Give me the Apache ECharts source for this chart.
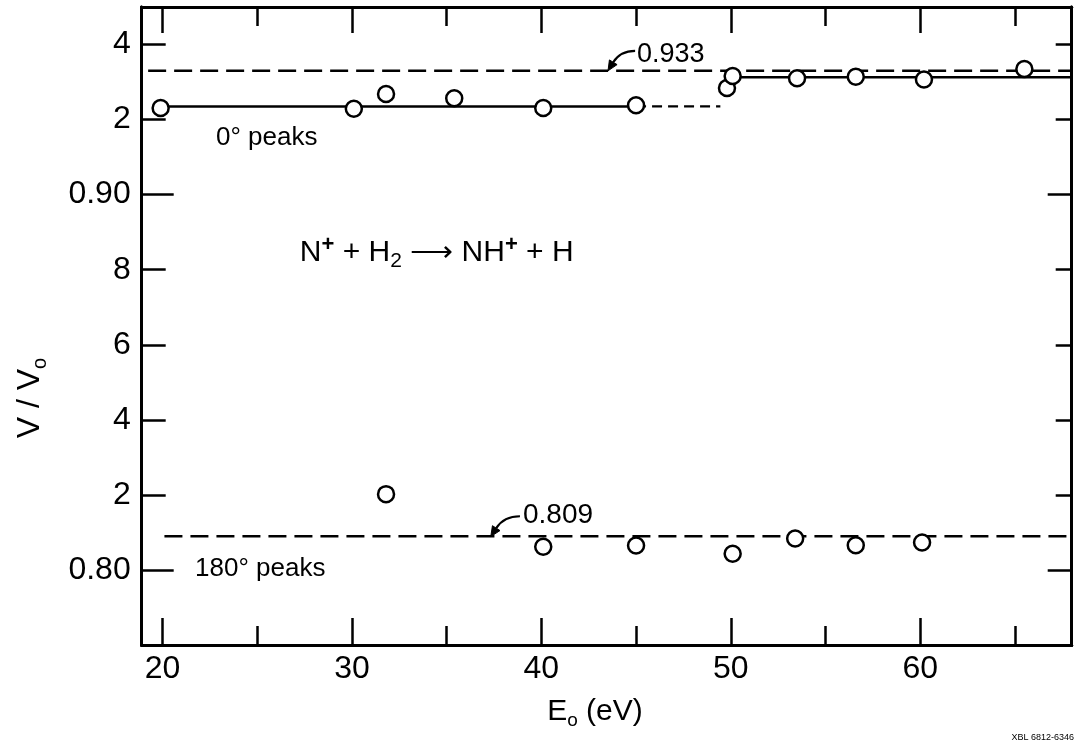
<!DOCTYPE html>
<html><head><meta charset="utf-8">
<script src="https://cdn.jsdelivr.net/npm/echarts@6/dist/echarts.min.js"></script>
<style>html,body{margin:0;padding:0;background:#fff}#c{width:1077px;height:743px}</style>
</head><body><div id="c"></div>
<script>
// ---- data ----
const peaks0E = [19.9, 30.1, 31.8, 35.4, 40.1, 45.0, 49.8, 50.1, 53.5, 56.6, 60.2, 65.5];
const peaks0V = [0.9231, 0.9229, 0.9268, 0.9257, 0.9231, 0.9238, 0.9284, 0.9316, 0.9310, 0.9314, 0.9307, 0.9335];
const peaks180E = [31.8, 40.1, 45.0, 50.1, 53.4, 56.6, 60.1];
const peaks180V = [0.8202, 0.8062, 0.8065, 0.8043, 0.8084, 0.8066, 0.8073];
const fitLowE = [20, 45];
const fitLowExtE = [45, 49.45];
const fitLowV = 0.9235;
const fitHighE = [50.06, 68];
const fitHighV = 0.9313;
const ref0E = [19.24, 68];
const ref0V = 0.933;
const ref180E = [20.1, 68];
const ref180V = 0.809;
const arrow933 = [[44.95, 0.9383], [43.52, 0.933]];
const arrow809 = [[38.87, 0.8143], [37.33, 0.8089]];
const xLabelValues = [20, 30, 40, 50, 60];
const xMinorValues = [25, 35, 45, 55, 65];
const yTickValues = [0.80, 0.82, 0.84, 0.86, 0.88, 0.90, 0.92, 0.94];
const yTickLabels = ['0.80', '2', '4', '6', '8', '0.90', '2', '4'];
const yMajorValues = [0.80, 0.90];
const yMinorValues = [0.82, 0.84, 0.86, 0.88, 0.92, 0.94];
const X_MIN = 18.9, X_MAX = 68.0, Y_MIN = 0.78, Y_MAX = 0.95;

const FONT = '"Liberation Sans", Arial, sans-serif';
const chart = echarts.init(document.getElementById('c'), null, {renderer: 'canvas'});

function zip(xs, ys) { return xs.map((x, i) => [x, ys[i]]); }
function hline(xs, v) { return xs.map(x => [x, v]); }

function xAxisDef(pos, len, vals, withLabel) {
  return {
    type: 'value', min: X_MIN, max: X_MAX, position: pos,
    axisLine: {show: true, onZero: false, lineStyle: {color: '#000', width: 3}},
    axisTick: {show: true, inside: true, length: len, customValues: vals, lineStyle: {color: '#000', width: 2.5}},
    axisLabel: withLabel ? {show: true, customValues: vals, fontSize: 32, color: '#000', fontFamily: FONT, margin: 8} : {show: false},
    splitLine: {show: false}
  };
}
function yAxisDef(pos, len, vals, withLabel) {
  return {
    type: 'value', min: Y_MIN, max: Y_MAX, position: pos,
    axisLine: {show: true, onZero: false, lineStyle: {color: '#000', width: 3}},
    axisTick: {show: true, inside: true, length: len, customValues: vals, lineStyle: {color: '#000', width: 2.5}},
    axisLabel: withLabel ? {
      show: true, customValues: yTickValues, fontSize: 32, color: '#000', fontFamily: FONT, margin: 11,
      formatter: function (v) {
        let best = 0;
        yTickValues.forEach((t, i) => { if (Math.abs(t - v) < Math.abs(yTickValues[best] - v)) best = i; });
        return yTickLabels[best];
      }
    } : {show: false},
    splitLine: {show: false}
  };
}

const ptStyle = {color: '#fff', borderColor: '#000', borderWidth: 2.5, opacity: 1};
const lineBase = {type: 'line', showSymbol: false, symbol: 'none', silent: true, z: 3, xAxisIndex: 0, yAxisIndex: 0};

const labelItem = (x, y, fmt, size, rich) => ({
  value: [x, y],
  label: {show: true, position: 'right', distance: 0, formatter: fmt, fontSize: size, color: '#000', opacity: 1, fontFamily: FONT, verticalAlign: 'middle', rich: rich}
});

const eqRich = {
  n: {fontSize: 30, fontFamily: FONT, color: '#000', lineHeight: 38},
  sup: {fontSize: 22, fontFamily: FONT, color: '#000', fontWeight: 'bold', lineHeight: 20, verticalAlign: 'top'},
  sub: {fontSize: 21, fontFamily: FONT, color: '#000', lineHeight: 20, verticalAlign: 'bottom'}
};

chart.setOption({
  animation: false,
  backgroundColor: '#fff',
  grid: {left: 141.7, right: 5.3, top: 7, bottom: 98, containLabel: false},
  xAxis: [
    xAxisDef('bottom', 27, xLabelValues, true),
    xAxisDef('bottom', 19, xMinorValues, false),
    xAxisDef('top', 26, xLabelValues, false),
    xAxisDef('top', 19, xMinorValues, false)
  ],
  yAxis: [
    yAxisDef('left', 24, yMinorValues, true),
    yAxisDef('left', 32, yMajorValues, false),
    yAxisDef('right', 16, yMinorValues, false),
    yAxisDef('right', 24, yMajorValues, false)
  ],
  series: [
    Object.assign({}, lineBase, {name: 'fitLow', data: hline(fitLowE, fitLowV), lineStyle: {color: '#000', width: 2.5}}),
    Object.assign({}, lineBase, {name: 'fitLowExt', data: hline(fitLowExtE, fitLowV), lineStyle: {color: '#000', width: 2.2, type: [10, 6]}}),
    Object.assign({}, lineBase, {name: 'fitHigh', data: hline(fitHighE, fitHighV), lineStyle: {color: '#000', width: 2.5}}),
    Object.assign({}, lineBase, {name: 'ref0', data: hline(ref0E, ref0V), lineStyle: {color: '#000', width: 2.5, type: [18, 8]}}),
    Object.assign({}, lineBase, {name: 'ref180', data: hline(ref180E, ref180V), lineStyle: {color: '#000', width: 2.5, type: [18, 8]}}),
    {type: 'scatter', name: '0° peaks', data: zip(peaks0E, peaks0V), symbol: 'circle', symbolSize: 16, itemStyle: ptStyle, z: 5, silent: true},
    {type: 'scatter', name: '180° peaks', data: zip(peaks180E, peaks180V), symbol: 'circle', symbolSize: 16, itemStyle: ptStyle, z: 5, silent: true},
    {type: 'scatter', name: 'notes', symbolSize: 0, silent: true, z: 6, itemStyle: {opacity: 1}, data: [
      labelItem(22.82, 0.9151, '0° peaks', 26),
      labelItem(21.72, 0.8003, '180° peaks', 26),
      labelItem(45.05, 0.9374, '0.933', 27),
      labelItem(39.03, 0.8145, '0.809', 28),
      labelItem(27.25, 0.8844, '{n|N}{sup|+}{n| + H}{sub|2}{n| ⟶ NH}{sup|+}{n| + H}', 30, eqRich)
    ]}
  ],
  graphic: [
    {type: 'text', id: 'ytitle', x: 30, y: 398, rotation: Math.PI / 2, silent: true,
      style: {text: '{a|V / V}{b|o}', align: 'center', verticalAlign: 'middle', fill: '#000',
        rich: {a: {fontSize: 32, fontFamily: FONT, fill: '#000', lineHeight: 40},
               b: {fontSize: 20, fontFamily: FONT, fill: '#000', verticalAlign: 'bottom', lineHeight: 20}}}},
    {type: 'text', id: 'xtitle', x: 595, y: 712, silent: true,
      style: {text: '{a|E}{b|o}{a| (eV)}', align: 'center', verticalAlign: 'middle', fill: '#000',
        rich: {a: {fontSize: 30, fontFamily: FONT, fill: '#000', lineHeight: 36},
               b: {fontSize: 19, fontFamily: FONT, fill: '#000', verticalAlign: 'bottom', lineHeight: 18}}}},
    {type: 'text', id: 'xbl', x: 1074, y: 738, silent: true,
      style: {text: 'XBL 6812-6346', align: 'right', verticalAlign: 'middle', fill: '#000', fontSize: 9, fontFamily: FONT}}
  ]
});

// curved leader arrows, positioned through the chart's own scales
function leader(id, pair) {
  const s = chart.convertToPixel({xAxisIndex: 0, yAxisIndex: 0}, pair[0]);
  const t = chart.convertToPixel({xAxisIndex: 0, yAxisIndex: 0}, pair[1]);
  const cp = [t[0] + 0.45 * (s[0] - t[0]), s[1]];
  const dx = t[0] - cp[0], dy = t[1] - cp[1];
  const L = Math.hypot(dx, dy), ux = dx / L, uy = dy / L;
  const hl = 10, hw = 4.5;
  const bx = t[0] - ux * hl, by = t[1] - uy * hl;
  return [
    {type: 'bezierCurve', id: id + 'c', silent: true, z: 10,
      shape: {x1: s[0], y1: s[1], x2: bx, y2: by, cpx1: cp[0], cpy1: cp[1]},
      style: {stroke: '#000', lineWidth: 2.2, fill: null}},
    {type: 'polygon', id: id + 'h', silent: true, z: 10,
      shape: {points: [[t[0], t[1]], [bx - uy * hw, by + ux * hw], [bx + uy * hw, by - ux * hw]]},
      style: {fill: '#000', stroke: '#000', lineWidth: 1}}
  ];
}
chart.setOption({graphic: [].concat(leader('a933', arrow933), leader('a809', arrow809))});
</script></body></html>
